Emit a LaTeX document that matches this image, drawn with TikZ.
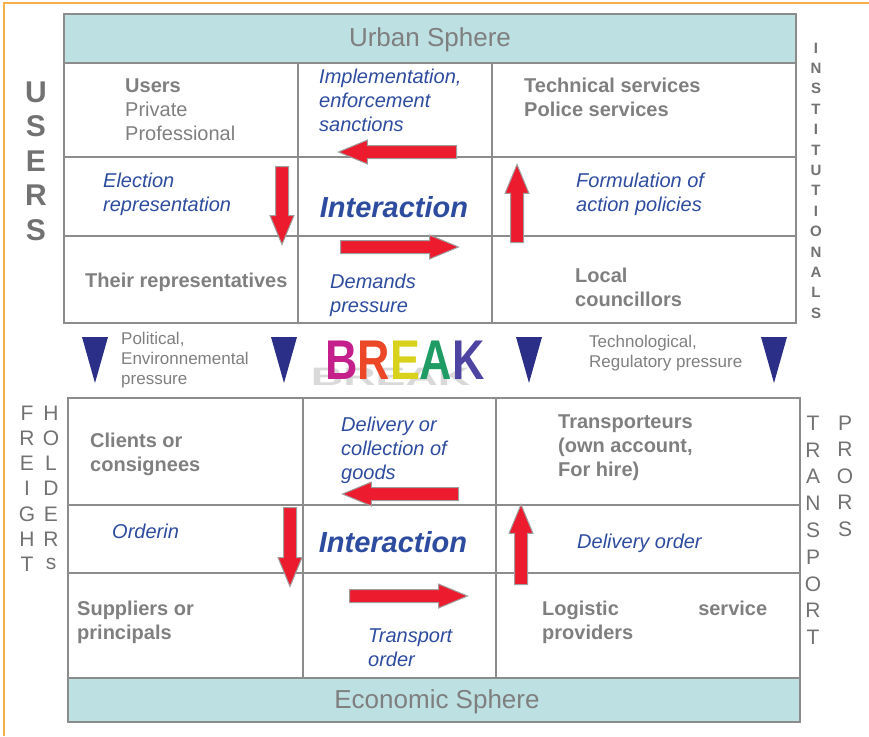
\documentclass[tikz,border=0pt]{standalone}
\usepackage{fontspec}
\setmainfont{Liberation Sans}
\usetikzlibrary{shapes.arrows}
\definecolor{spherecol}{HTML}{BDE0E3}
\definecolor{linegray}{HTML}{8C8C8C}
\definecolor{txtgray}{HTML}{7F7F7F}
\definecolor{txtblue}{HTML}{2E4C9F}
\definecolor{arrowred}{HTML}{EC1C2E}
\definecolor{navy}{HTML}{2B2F88}
\definecolor{edgeorange}{HTML}{F5B04A}
\definecolor{colB}{HTML}{C51F8C}
\definecolor{colR}{HTML}{EC4727}
\definecolor{colE}{HTML}{D9D21C}
\definecolor{colA}{HTML}{1E9C63}
\definecolor{colK}{HTML}{4E44A2}

\begin{document}
\begin{tikzpicture}[x=1pt,y=-1pt,
  cellline/.style={linegray, line width=1.5pt},
  frameline/.style={linegray, line width=2.2pt},
  lbl/.style={anchor=west, align=left, inner sep=0pt, text=txtgray,
    font=\fontsize{20}{24}\selectfont},
  boldlbl/.style={lbl, font=\fontsize{20}{24}\selectfont\bfseries},
  bluelbl/.style={lbl, text=txtblue, font=\fontsize{20}{24}\selectfont\itshape},
  notelbl/.style={lbl, font=\fontsize{17}{20}\selectfont},
  interlbl/.style={text=txtblue, inner sep=0pt,
    font=\fontsize{29}{34}\selectfont\bfseries\itshape},
  spherelbl/.style={text=txtgray, inner sep=0pt, font=\fontsize{26}{30}\selectfont},
  redarrow/.style={single arrow, anchor=tail, fill=arrowred, draw=gray!75,
    line width=1pt, inner sep=6pt, single arrow head extend=5.5pt,
    single arrow tip angle=45},
  sideletter/.style={text=txtgray!110, inner sep=0pt}]
\useasboundingbox (0,0) rectangle (869,736);

% page edge
\draw[edgeorange, line width=1.5pt] (4,736) -- (4,3) -- (869,3);

% urban sphere block
\fill[spherecol] (64,14) rectangle (796,63);
\draw[cellline] (64,63) -- (796,63);
\draw[cellline] (64,157) -- (796,157);
\draw[cellline] (64,236) -- (796,236);
\draw[cellline] (298,63) -- (298,323);
\draw[cellline] (492,63) -- (492,323);
\draw[frameline] (64,14) rectangle (796,323);
\node[spherelbl] (urban) at (430,40) {Urban Sphere};

\node[lbl] (users) at (125,110) {\textbf{Users}\\Private\\Professional};
\node[bluelbl] (implem) at (319,100) {Implementation,\\enforcement\\sanctions};
\node[boldlbl] (techserv) at (524,97) {Technical services\\Police services};
\node[bluelbl] (election) at (103,194) {Election\\representation};
\node[interlbl] (inter1) at (394,207) {Interaction};
\node[bluelbl] (formul) at (576,194) {Formulation of\\action policies};
\node[boldlbl] (theirrep) at (85,282) {Their representatives};
\node[bluelbl] (demands) at (330,295) {Demands\\pressure};
\node[boldlbl] (local) at (575,287) {Local\\councillors};

\node[redarrow, minimum height=118, shape border rotate=180] (a1) at (457,152) {};
\node[redarrow, minimum height=118] (a2) at (340,247) {};
\node[redarrow, minimum height=78, shape border rotate=270] (a3) at (282,166) {};
\node[redarrow, minimum height=78, shape border rotate=90] (a4) at (517,243) {};

% side words
\foreach \ch [count=\i from 0] in {U,S,E,R,S}
  \node[sideletter, font=\fontsize{30}{30}\selectfont\bfseries] (usr\i) at (36,92+34.5*\i) {\ch};
\foreach \ch [count=\i from 0] in {I,N,S,T,I,T,U,T,I,O,N,A,L,S}
  \node[sideletter, font=\fontsize{15}{15}\selectfont\bfseries] (inst\i) at (816,48+20.4*\i) {\ch};

% break row
\foreach \x [count=\i] in {95,284,529,774}
  \fill[navy] (\x-13,337) -- (\x+13,337) -- (\x,383) -- cycle;
\node[notelbl] (polit) at (121,360) {Political,\\Environnemental\\pressure};
\node[notelbl] (techno) at (589,353) {Technological,\\Regulatory pressure};
% rainbow word with its flat grey shadow
\node[inner sep=0pt, font=\fontsize{56}{56}\selectfont\bfseries] (brk) at (405,363)
  {\scalebox{0.8}[1]{\rlap{\kern-18pt\raisebox{-6pt}{\color{gray!30}\scalebox{1}[0.45]{BREAK}}}%
   \color{colB}B\color{colR}R\color{colE}E\color{colA}A\color{colK}K}};

% economic sphere block
\fill[spherecol] (68,678) rectangle (800,722);
\draw[cellline] (68,678) -- (800,678);
\draw[cellline] (68,505) -- (800,505);
\draw[cellline] (68,573) -- (800,573);
\draw[cellline] (303,398) -- (303,678);
\draw[cellline] (496,398) -- (496,678);
\draw[frameline] (68,398) rectangle (800,722);
\node[spherelbl] (econ) at (437,702) {Economic Sphere};

\node[boldlbl] (clients) at (90,454) {Clients or\\consignees};
\node[bluelbl] (delivery) at (341,450) {Delivery or\\collection of\\goods};
\node[boldlbl] (transp) at (558,448) {Transporteurs\\(own account,\\For hire)};
\node[bluelbl] (orderin) at (112,531) {Orderin};
\node[interlbl] (inter2) at (393,542) {Interaction};
\node[bluelbl] (delorder) at (577,543) {Delivery order};
\node[boldlbl] (suppl) at (77,622) {Suppliers or\\principals};
\node[bluelbl] (trorder) at (368,648) {Transport\\order};
\node[boldlbl, text width=225] (logist) at (542,622) {Logistic\hfill service\\providers};

\node[redarrow, minimum height=116, shape border rotate=180] (b1) at (459,494) {};
\node[redarrow, minimum height=118] (b2) at (349,596) {};
\node[redarrow, minimum height=79, shape border rotate=270] (b3) at (290,507) {};
\node[redarrow, minimum height=80, shape border rotate=90] (b4) at (521,585) {};

\foreach \ch [count=\i from 0] in {F,R,E,I,G,H,T}
  \node[sideletter, font=\fontsize{21}{21}\selectfont] (frt\i) at (27,413+25.2*\i) {\ch};
\foreach \ch [count=\i from 0] in {H,O,L,D,E,R,s}
  \node[sideletter, font=\fontsize{21}{21}\selectfont] (hld\i) at (51,413+25.2*\i) {\ch};
\foreach \ch [count=\i from 0] in {T,R,A,N,S,P,O,R,T}
  \node[sideletter, font=\fontsize{21}{21}\selectfont] (trs\i) at (813,423+26.8*\i) {\ch};
\foreach \ch [count=\i from 0] in {P,R,O,R,S}
  \node[sideletter, font=\fontsize{21}{21}\selectfont] (prs\i) at (845,423+26.5*\i) {\ch};
\end{tikzpicture}
\end{document}
